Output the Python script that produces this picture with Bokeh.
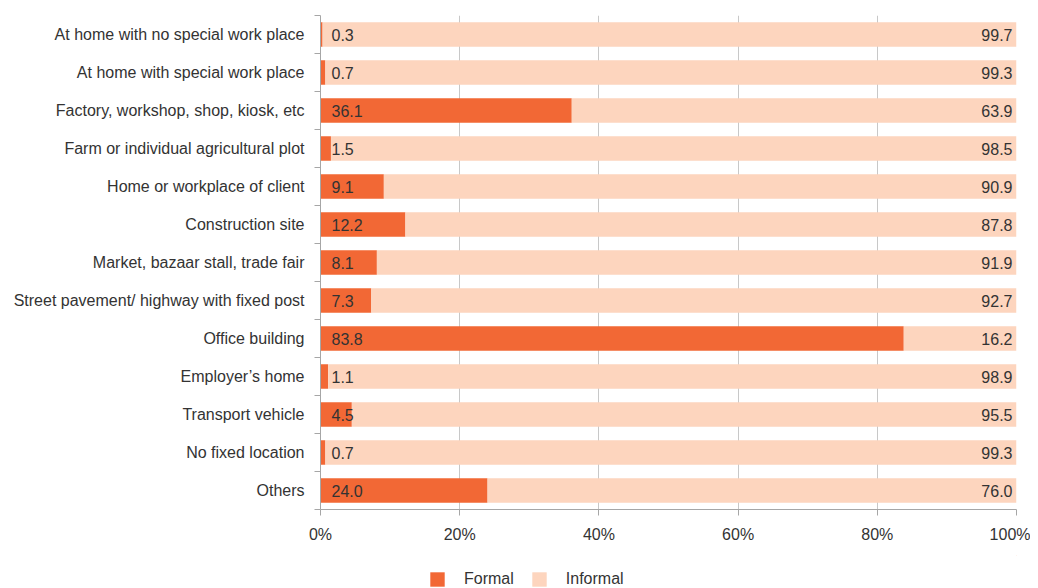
from bokeh.plotting import figure
from bokeh.layouts import column
from bokeh.models import ColumnDataSource, FixedTicker, Legend, LegendItem, NumeralTickFormatter, Range1d
from bokeh.core.properties import value
from bokeh.embed import file_html
from bokeh.resources import INLINE

categories = [
    "At home with no special work place",
    "At home with special work place",
    "Factory, workshop, shop, kiosk, etc",
    "Farm or individual agricultural plot",
    "Home or workplace of client",
    "Construction site",
    "Market, bazaar stall, trade fair",
    "Street pavement/ highway with fixed post",
    "Office building",
    "Employer\u2019s home",
    "Transport vehicle",
    "No fixed location",
    "Others",
]
formal = [0.3, 0.7, 36.1, 1.5, 9.1, 12.2, 8.1, 7.3, 83.8, 1.1, 4.5, 0.7, 24.0]
informal = [99.7, 99.3, 63.9, 98.5, 90.9, 87.8, 91.9, 92.7, 16.2, 98.9, 95.5, 99.3, 76.0]
x_ticks = [0, 20, 40, 60, 80, 100]
series_names = ["Formal", "Informal"]

FONT = "Liberation Sans"
TXT = "#333333"
C_FORMAL = "#F26835"
C_INFORMAL = "#FDD5BE"

n = len(categories)
ypos = [n - 1 - i for i in range(n)]
src = ColumnDataSource(dict(
    y=ypos,
    formal=formal,
    informal=informal,
    total=[f + i for f, i in zip(formal, informal)],
    flab=[f"{v:.1f}" for v in formal],
    ilab=[f"{v:.1f}" for v in informal],
))

p = figure(width=1030, height=555, output_backend="svg", toolbar_location=None,
           x_range=Range1d(0, 100), y_range=Range1d(-0.5, n - 0.5),
           min_border_left=320, min_border_right=14, min_border_top=15, min_border_bottom=46)
p.outline_line_color = None
p.background_fill_color = "white"

p.hbar(y="y", left=0, right="formal", height=0.64, source=src, color=C_FORMAL, line_color=None)
p.hbar(y="y", left="formal", right="total", height=0.64, source=src, color=C_INFORMAL, line_color=None)

p.text(x=0, y="y", text="flab", source=src, x_offset=11, text_align="left", text_baseline="middle",
       text_font=value(FONT), text_font_size="16px", text_color=TXT)
p.text(x="total", y="y", text="ilab", source=src, x_offset=-4, text_align="right", text_baseline="middle",
       text_font=value(FONT), text_font_size="16px", text_color=TXT)

# x axis
p.xaxis.ticker = FixedTicker(ticks=x_ticks)
p.xaxis.formatter = NumeralTickFormatter(format="0")
p.xaxis.major_label_overrides = {t: f"{t}%" for t in x_ticks}
p.xaxis.major_label_text_font = FONT
p.xaxis.major_label_text_font_size = "16px"
p.xaxis.major_label_text_color = TXT
p.xaxis.axis_line_color = "#a6a6a6"
p.xaxis.major_tick_line_color = "#a6a6a6"
p.xaxis.major_tick_in = 0
p.xaxis.major_tick_out = 6
p.xaxis.minor_tick_line_color = None
p.xaxis.major_label_standoff = 10

# y axis
p.yaxis.ticker = FixedTicker(ticks=ypos, minor_ticks=[k + 0.5 for k in range(-1, n)])
p.yaxis.major_label_overrides = {yv: c for yv, c in zip(ypos, categories)}
p.yaxis.major_label_text_font = FONT
p.yaxis.major_label_text_font_size = "16px"
p.yaxis.major_label_text_color = TXT
p.yaxis.axis_line_color = "#a6a6a6"
p.yaxis.major_tick_line_color = None
p.yaxis.major_tick_in = 0
p.yaxis.major_tick_out = 0
p.yaxis.minor_tick_line_color = "#a6a6a6"
p.yaxis.minor_tick_in = 0
p.yaxis.minor_tick_out = 6
p.yaxis.major_label_standoff = 10

p.xgrid.ticker = FixedTicker(ticks=x_ticks)
p.xgrid.grid_line_color = "#c8c8c8"
p.ygrid.grid_line_color = None

# legend in a small strip figure below
lg = figure(width=1030, height=33, output_backend="svg", toolbar_location=None,
            x_range=Range1d(0, 1), y_range=Range1d(0, 1),
            x_axis_location=None, y_axis_location=None,
            min_border_left=0, min_border_right=0, min_border_top=0, min_border_bottom=0)
lg.outline_line_color = None
lg.xgrid.grid_line_color = None
lg.ygrid.grid_line_color = None
r_f = lg.hbar(y=[5], left=[5], right=[6], height=1, color=C_FORMAL, line_color=None)
r_i = lg.hbar(y=[5], left=[5], right=[6], height=1, color=C_INFORMAL, line_color=None)
legend = Legend(items=[LegendItem(label=series_names[0], renderers=[r_f]),
                       LegendItem(label=series_names[1], renderers=[r_i])],
                orientation="horizontal", location=(108, 0),
                label_text_font=FONT, label_text_font_size="16px", label_text_color=TXT,
                glyph_width=18, glyph_height=18, spacing=16, label_standoff=18,
                border_line_color=None, background_fill_alpha=0, padding=0, margin=0)
lg.add_layout(legend, "center")

layout = column(p, lg, spacing=0)
open("out.html", "w").write(file_html(layout, INLINE))
